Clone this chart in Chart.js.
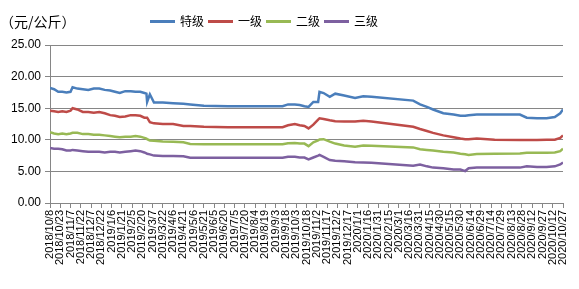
<!DOCTYPE html>
<html>
<head>
<meta charset="utf-8">
<script src="https://cdn.jsdelivr.net/npm/chart.js@4/dist/chart.umd.min.js"></script>
<style>
  body { margin: 0; background: #fff; }
  #wrap { position: relative; width: 579px; height: 289px; }
  #unit { position: absolute; left: 0px; top: 13px; font: 14px/16px "Noto Sans CJK SC"; color: #000; }
  #legend { position: absolute; left: 150px; top: 14px; display: flex; align-items: center; font: 12px/14px "Noto Sans CJK SC"; color: #000; }
  .sw { display: inline-block; width: 25px; height: 3px; margin-right: 5px; }
  .lg { margin-right: 4px; }
</style>
</head>
<body>
<div id="wrap">
  <canvas id="chart"></canvas>
  <div id="unit">（元/公斤）</div>
  <div id="legend"></div>
</div>
<script>
const dates = [
  '2018/10/8', '2018/10/14', '2018/10/20', '2018/10/26', '2018/11/1', '2018/11/7', '2018/11/10', '2018/11/17', '2018/11/25', '2018/12/3',
  '2018/12/11', '2018/12/19', '2018/12/27', '2019/1/4', '2019/1/11', '2019/1/18', '2019/1/26', '2019/2/3', '2019/2/10', '2019/2/17',
  '2019/2/23', '2019/2/26', '2019/2/27', '2019/3/3', '2019/3/9', '2019/3/22', '2019/4/6', '2019/4/21', '2019/5/1', '2019/5/21',
  '2019/6/25', '2019/8/4', '2019/9/13', '2019/9/21', '2019/10/1', '2019/10/8', '2019/10/15', '2019/10/21', '2019/10/28', '2019/11/4',
  '2019/11/6', '2019/11/12', '2019/11/21', '2019/11/29', '2019/12/12', '2019/12/28', '2020/1/9', '2020/1/21', '2020/3/22', '2020/4/1',
  '2020/4/11', '2020/4/20', '2020/5/5', '2020/5/20', '2020/5/30', '2020/6/6', '2020/6/11', '2020/6/23', '2020/7/19', '2020/8/25',
  '2020/9/4', '2020/9/19', '2020/10/3', '2020/10/15', '2020/10/23', '2020/10/27'
];
const gradeNames = ['特级', '一级', '二级', '三级'];
const gradeColors = ['#4a7ebb', '#be4b48', '#98b954', '#7d60a0'];

const special = [
  18.2, 18.0, 17.6, 17.6, 17.5, 17.6, 18.3, 18.1, 18.0, 17.9,
  18.1, 18.1, 17.9, 17.8, 17.6, 17.4, 17.7, 17.7, 17.6, 17.6,
  17.4, 17.3, 16.0, 17.2, 15.9, 15.9, 15.8, 15.7, 15.6, 15.4,
  15.3, 15.3, 15.3, 15.6, 15.6, 15.5, 15.3, 15.2, 16.0, 16.0,
  17.6, 17.4, 16.8, 17.3, 17.0, 16.6, 16.9, 16.8, 16.2, 15.6,
  15.2, 14.8, 14.2, 14.0, 13.8, 13.8, 13.9, 14.0, 14.0, 14.0,
  13.5, 13.4, 13.4, 13.6, 14.2, 14.8
];
const first = [
  14.6, 14.5, 14.4, 14.5, 14.4, 14.6, 15.0, 14.8, 14.4, 14.4,
  14.3, 14.4, 14.2, 13.9, 13.8, 13.6, 13.7, 13.9, 13.9, 13.8,
  13.5, 13.5, 13.5, 12.8, 12.6, 12.5, 12.5, 12.2, 12.2, 12.05,
  12.0, 12.0, 12.0, 12.3, 12.5, 12.3, 12.2, 11.8, 12.4, 13.2,
  13.4, 13.3, 13.1, 12.95, 12.9, 12.9, 13.0, 12.9, 12.05, 11.7,
  11.4, 11.1, 10.7, 10.4, 10.2, 10.1, 10.1, 10.2, 10.0, 9.95,
  9.95, 9.95, 10.0, 10.0, 10.3, 10.7
];
const second = [
  11.2, 11.0, 10.9, 11.0, 10.9, 11.0, 11.1, 11.1, 10.9, 10.9,
  10.8, 10.8, 10.7, 10.6, 10.5, 10.4, 10.5, 10.5, 10.6, 10.5,
  10.3, 10.2, 10.1, 9.9, 9.85, 9.75, 9.7, 9.6, 9.35, 9.3,
  9.3, 9.3, 9.3, 9.45, 9.5, 9.4, 9.4, 9.0, 9.6, 9.9,
  10.05, 10.1, 9.7, 9.4, 9.1, 8.9, 9.1, 9.05, 8.8, 8.5,
  8.4, 8.3, 8.1, 8.0, 7.8, 7.7, 7.6, 7.75, 7.8, 7.85,
  7.95, 7.95, 7.95, 8.0, 8.2, 8.6
];
const third = [
  8.7, 8.6, 8.6, 8.5, 8.3, 8.3, 8.4, 8.3, 8.2, 8.1,
  8.1, 8.1, 8.0, 8.1, 8.1, 8.0, 8.1, 8.2, 8.3, 8.2,
  8.0, 7.85, 7.8, 7.7, 7.5, 7.45, 7.45, 7.4, 7.15, 7.15,
  7.15, 7.15, 7.15, 7.3, 7.3, 7.2, 7.2, 6.9, 7.2, 7.5,
  7.6, 7.3, 6.8, 6.7, 6.6, 6.45, 6.4, 6.35, 5.9, 6.1,
  5.8, 5.6, 5.5, 5.3, 5.3, 5.05, 5.5, 5.6, 5.6, 5.6,
  5.8, 5.7, 5.7, 5.8, 6.1, 6.4
];
const firstDay = '2018/10/8';
const lastDay = '2020/10/27';
const tickDays = 15;
const yMax = 25, yStep = 5;

const DAY = 86400000;
function toUtc(s) {
  const p = s.split('/').map(Number);
  return Date.UTC(p[0], p[1] - 1, p[2]);
}
const base = toUtc(firstDay);
const dayOf = s => Math.round((toUtc(s) - base) / DAY);
function dayLabel(v) {
  const d = new Date(base + v * DAY);
  return d.getUTCFullYear() + '/' + (d.getUTCMonth() + 1) + '/' + d.getUTCDate();
}

const seriesValues = [special, first, second, third];
const datasets = seriesValues.map((vals, i) => ({
  label: gradeNames[i],
  data: vals.map((v, j) => ({ x: dayOf(dates[j]), y: v })),
  borderColor: gradeColors[i],
  backgroundColor: gradeColors[i],
  borderWidth: 2.5,
  pointRadius: 0,
  tension: 0
}));

// html legend
const legend = document.getElementById('legend');
gradeNames.forEach((n, i) => {
  legend.insertAdjacentHTML('beforeend',
    `<span class="sw" style="background:${gradeColors[i]}"></span><span class="lg">${n}</span>`);
});

const gridColor = '#868686';
new Chart(document.getElementById('chart'), {
  type: 'line',
  data: { datasets },
  options: {
    responsive: true,
    maintainAspectRatio: false,
    animation: false,
    layout: { padding: { top: 45, right: 16, left: 0, bottom: 0 } },
    plugins: { legend: { display: false }, tooltip: { enabled: false } },
    scales: {
      x: {
        type: 'linear',
        min: 0,
        max: dayOf(lastDay),
        grid: { drawOnChartArea: false, drawTicks: true, tickLength: 5, color: gridColor },
        border: { color: gridColor },
        ticks: {
          stepSize: tickDays,
          maxTicksLimit: 60,
          autoSkip: false,
          minRotation: 90,
          maxRotation: 90,
          padding: 2,
          color: '#000',
          font: { family: 'Liberation Sans', size: 11 },
          callback: v => dayLabel(v)
        },
        afterFit: s => { s.height = 86; }
      },
      y: {
        min: 0,
        max: yMax,
        grid: { color: gridColor, tickLength: 5 },
        border: { color: gridColor },
        ticks: {
          stepSize: yStep,
          padding: 4,
          color: '#000',
          font: { family: 'Liberation Sans', size: 12 },
          callback: v => v.toFixed(2)
        },
        afterFit: s => { s.width = 50; }
      }
    }
  }
});
</script>
</body>
</html>
